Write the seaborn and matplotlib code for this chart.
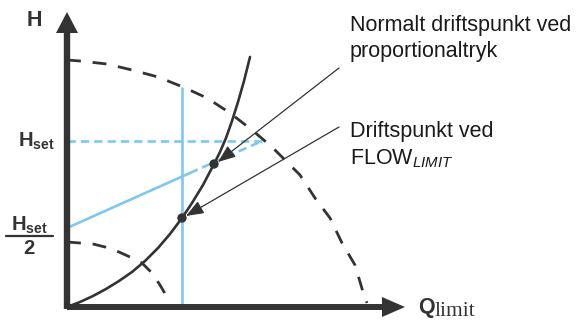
import numpy as np
import pandas as pd
import matplotlib
matplotlib.use("Agg")
import matplotlib.pyplot as plt
import seaborn as sns

# ---- data (Q/H in picture units from the origin) ----
pump_q = [0, 13, 40, 65, 91, 116, 140, 163, 185, 205, 216, 233, 248, 263, 275, 288, 296, 300]
pump_h = [247, 246, 243, 237, 230, 220, 209, 194, 177, 160, 149, 132, 109, 89, 64, 42, 15, 4]

low_q = [0, 26, 38, 52, 63, 75, 85, 93, 100]
low_h = [65, 63, 60, 55, 50, 44, 34, 22, 10]

sys_q = [0, 13, 26, 39, 52, 65, 78, 91, 103, 115, 125, 136, 147, 153, 159, 165, 171, 177, 183]
sys_h = [0, 5, 11, 18, 26, 35, 46, 59, 73, 89, 104, 122, 143, 155, 169, 186, 205, 226, 250]

hset = 166
hset_q = [0, 195]
hset_h = [hset, hset]

blue_solid_q = [0, 123]
blue_solid_h = [79, 134]
blue_dash_q = [123, 195]
blue_dash_h = [134, 166]

vline_q = [115, 115]
vline_h = [0, 219]

points_q = [147, 115]
points_h = [143, 89]

arrow_from = [(272, 239), (272, 180)]
arrow_to = [(151, 145), (119, 91)]

labels_right = ["Normalt driftspunkt ved\nproportionaltryk", "Driftspunkt ved\nFLOW$_{\\mathit{LIMIT}}$"]

# ---- style ----
sns.set_style("white")
plt.rcParams["font.family"] = ["Liberation Sans", "DejaVu Sans"]
plt.rcParams["mathtext.fontset"] = "custom"
plt.rcParams["mathtext.rm"] = "Liberation Sans"
plt.rcParams["mathtext.bf"] = "Liberation Sans:bold"
plt.rcParams["mathtext.it"] = "Liberation Sans:italic"
plt.rcParams["lines.scale_dashes"] = False

DARK = "#333333"
BLUE = "#7ec8ee"

fig = plt.figure(figsize=(5.8, 3.22), dpi=100)
ax = fig.add_axes([0, 0, 1, 1])
ax.set_xlim(-67, 513)
ax.set_ylim(-15, 307)
ax.axis("off")

# blue lines
sns.lineplot(x=vline_q, y=vline_h, ax=ax, color=BLUE, lw=1.9, sort=False, estimator=None)
sns.lineplot(x=blue_solid_q, y=blue_solid_h, ax=ax, color=BLUE, lw=1.9, sort=False, estimator=None)
sns.lineplot(x=blue_dash_q, y=blue_dash_h, ax=ax, color=BLUE, lw=1.9, sort=False, estimator=None,
             linestyle=(0, (6, 3.6)))
sns.lineplot(x=hset_q, y=hset_h, ax=ax, color=BLUE, lw=1.9, sort=False, estimator=None,
             linestyle=(0, (6, 3.6)))

# pump curves (dashed)
sns.lineplot(x=pump_q, y=pump_h, ax=ax, color=DARK, lw=2.0, sort=False, estimator=None,
             linestyle=(0, (10, 8.5)))
sns.lineplot(x=low_q, y=low_h, ax=ax, color=DARK, lw=2.0, sort=False, estimator=None,
             linestyle=(0, (10, 8.5)))

# system curve
sns.lineplot(x=sys_q, y=sys_h, ax=ax, color=DARK, lw=1.9, sort=False, estimator=None)

# operating points
sns.scatterplot(x=points_q, y=points_h, ax=ax, color=DARK, s=45, edgecolor="none", zorder=5)

# annotation arrows
for (x0, y0), (x1, y1) in zip(arrow_from, arrow_to):
    ax.annotate("", xy=(x1, y1), xytext=(x0, y0),
                arrowprops=dict(arrowstyle="-|>,head_length=0.9,head_width=0.35", color=DARK,
                                lw=0.9, shrinkA=0, shrinkB=0, mutation_scale=12))

# axes with arrows
ax.plot([0, 318], [0, 0], color=DARK, lw=4.3, solid_capstyle="butt", zorder=6)
ax.plot([0, 0], [-2, 276], color=DARK, lw=4.6, solid_capstyle="butt", zorder=6)
ax.fill([315, 338, 315], [10, 0, -10], color=DARK, zorder=6, lw=0)
ax.fill([-11, 0, 11], [274, 295, 274], color=DARK, zorder=6, lw=0)

# labels
ax.text(-33, 287, "H", fontsize=15.5, fontweight="bold", color=DARK, ha="center", va="center")
ax.text(-31, 166, "$\\mathbf{H}_{\\mathbf{set}}$", fontsize=14.5, color=DARK, ha="center", va="center")
ax.text(-38, 82, "$\\mathbf{H}_{\\mathbf{set}}$", fontsize=14.5, color=DARK, ha="center", va="center")
ax.plot([-61, -14], [71, 71], color=DARK, lw=1.6)
ax.text(-38, 59, "2", fontsize=14.5, fontweight="bold", color=DARK, ha="center", va="center")

ax.text(351, 0, "Q", fontsize=15.5, fontweight="bold", color=DARK, ha="left", va="center")
ax.text(368, -5, "limit", fontsize=15.5, family="Liberation Serif", color=DARK, ha="left", va="center")

ax.text(283, 292, labels_right[0], fontsize=15.5, color="#1a1a1a", ha="left", va="top", linespacing=1.3)
ax.text(283, 186, labels_right[1], fontsize=15.5, color="#1a1a1a", ha="left", va="top", linespacing=1.3)

fig.savefig("out.png", dpi=100)
